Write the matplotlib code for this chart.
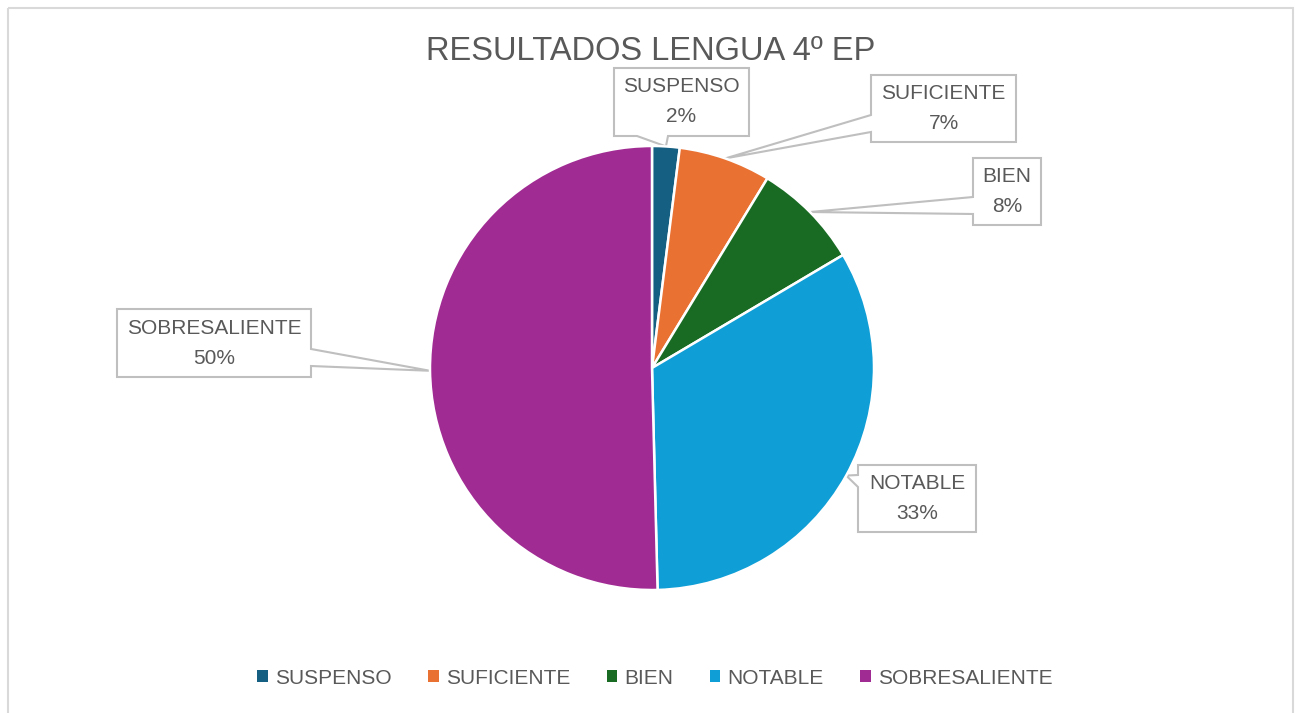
import matplotlib
matplotlib.use("Agg")
import matplotlib.pyplot as plt
import numpy as np
from matplotlib.patches import Polygon, Rectangle

categories = ["SUSPENSO", "SUFICIENTE", "BIEN", "NOTABLE", "SOBRESALIENTE"]
values = [2.0, 6.7, 7.8, 33.1, 50.4]
colors = ["#156082", "#E97132", "#196B24", "#0F9ED5", "#A02B93"]
title = "RESULTADOS LENGUA 4º EP"

plt.rcParams['font.family'] = ['Liberation Sans', 'DejaVu Sans']
TXT = "#595959"
W, H = 1298, 713
fig = plt.figure(figsize=(W / 100, H / 100), dpi=100)
fig.patch.set_facecolor("white")

# overlay axes in pixel coordinates
ov = fig.add_axes([0, 0, 1, 1])
ov.set_xlim(0, W)
ov.set_ylim(H, 0)
ov.axis("off")
ov.add_patch(Rectangle((8, 8), 1285, 720, fill=False, ec="#D9D9D9", lw=1.5))

# pie axes
cx, cy, R = 652, 368, 222
ax = fig.add_axes([(cx - R) / W, (H - cy - R) / H, 2 * R / W, 2 * R / H])
wedges, _ = ax.pie(values, colors=colors, startangle=90, counterclock=False,
                   radius=1, wedgeprops=dict(edgecolor="white", linewidth=1.8))
ax.set_xlim(-1, 1)
ax.set_ylim(-1, 1)
ax.set_aspect("equal")
ax.axis("off")

ov.text(W / 2 + 2, 52, title, ha="center", va="center", fontsize=23.5, color=TXT)

# callout boxes: (x0, y0, x1, y1), edge, base points along that edge
boxes = [
    ((614, 68, 749, 136), "bottom", (637, 668)),
    ((871, 75, 1016, 142), "left", (115, 132)),
    ((973, 158, 1041, 225), "left", (197, 214)),
    ((858, 465, 976, 532), "left", (475, 487)),
    ((117, 309, 311, 377), "right", (349, 366)),
]

total = sum(values)
for w, cat, v, (bx, edge, base) in zip(wedges, categories, values, boxes):
    mid = np.deg2rad((w.theta1 + w.theta2) / 2)
    tx, ty = cx + R * np.cos(mid), cy - R * np.sin(mid)
    x0, y0, x1, y1 = bx
    if edge == "bottom":
        pts = [(x0, y0), (x1, y0), (x1, y1), (base[1], y1), (tx, ty), (base[0], y1), (x0, y1)]
    elif edge == "left":
        pts = [(x0, y0), (x1, y0), (x1, y1), (x0, y1), (x0, base[1]), (tx, ty), (x0, base[0])]
    else:
        pts = [(x0, y0), (x1, y0), (x1, base[0]), (tx, ty), (x1, base[1]), (x1, y1), (x0, y1)]
    ov.add_patch(Polygon(pts, closed=True, fc="white", ec="#BFBFBF", lw=1.5, zorder=3))
    xm, ym = (x0 + x1) / 2, (y0 + y1) / 2
    ov.text(xm, ym - 15, cat, ha="center", va="center", fontsize=15, color=TXT, zorder=4)
    ov.text(xm, ym + 15, f"{round(v / total * 100)}%", ha="center", va="center",
            fontsize=15, color=TXT, zorder=4)

leg = fig.legend(wedges, categories, loc="center", bbox_to_anchor=(0.5 + 6 / W, 1 - 678 / H),
                 ncol=5, frameon=False, fontsize=15, handlelength=0.5, handleheight=0.5,
                 handletextpad=0.35, columnspacing=1.75, labelcolor=TXT)
for h in leg.legend_handles:
    h.set_linewidth(0)

fig.savefig("out.png", dpi=100)
